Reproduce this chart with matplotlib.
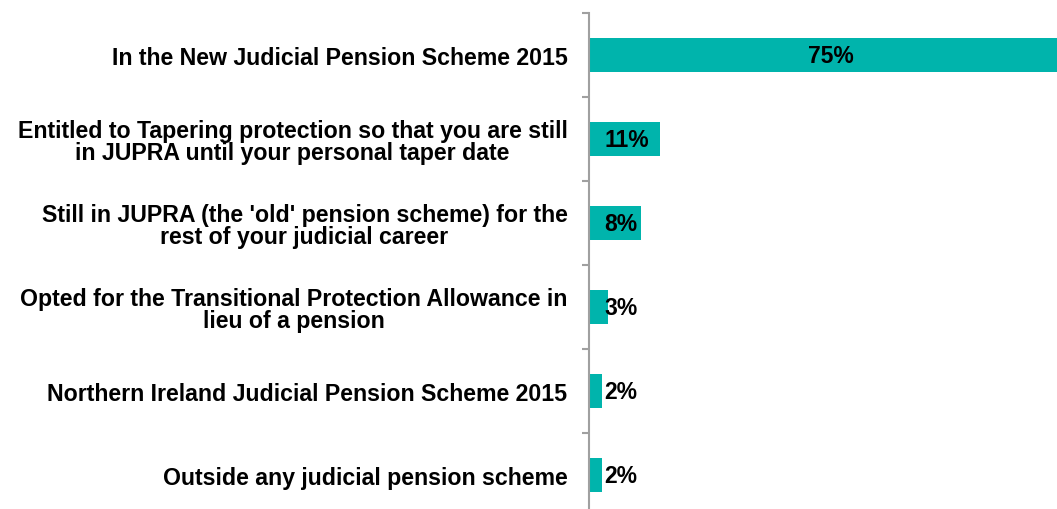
import numpy as np
import matplotlib.pyplot as plt

categories = [
    "In the New Judicial Pension Scheme 2015",
    "Entitled to Tapering protection so that you are still\nin JUPRA until your personal taper date",
    "Still in JUPRA (the 'old' pension scheme) for the\nrest of your judicial career",
    "Opted for the Transitional Protection Allowance in\nlieu of a pension",
    "Northern Ireland Judicial Pension Scheme 2015",
    "Outside any judicial pension scheme",
]
values = [75, 11, 8, 3, 2, 2]

plt.rcParams["font.family"] = ["Liberation Sans", "DejaVu Sans"]

fig = plt.figure(figsize=(10.57, 5.10), dpi=100)
ax = fig.add_axes([0.5572, -0.0157, 0.4428, 0.9882])

y = np.arange(len(categories))
ax.barh(y, values, height=0.4, color="#00B4AC", zorder=2)

ax.set_xlim(0, 72.6)
ax.set_ylim(len(categories) - 0.5, -0.5)

# value labels: centred in wide bars, just right of the axis for short ones
for yi, v in zip(y, values):
    if v > 20:
        ax.text(v / 2, yi, f"{v}%", ha="center", va="center",
                fontsize=16.5, fontweight="bold", color="black", zorder=3)
    else:
        ax.text(2.4, yi, f"{v}%", ha="left", va="center",
                fontsize=16.5, fontweight="bold", color="black", zorder=3)

# spines: only the left category axis
for side in ["top", "right", "bottom"]:
    ax.spines[side].set_visible(False)
ax.spines["left"].set_color("#A0A0A0")
ax.spines["left"].set_linewidth(1.5)
ax.set_xticks([])

# boundary ticks between categories
ax.set_yticks(np.arange(-0.5, len(categories), 1))
ax.set_yticklabels([])
ax.tick_params(axis="y", which="major", length=5, width=1.5, color="#A0A0A0",
               direction="out")

# category names on minor ticks at bar centres
ax.set_yticks(y, minor=True)
ax.set_yticklabels(categories, minor=True, fontsize=16.7, fontweight="bold",
                   multialignment="center", linespacing=0.98)
ax.tick_params(axis="y", which="minor", length=0, pad=15.5)

fig.savefig("out.png", dpi=100)
